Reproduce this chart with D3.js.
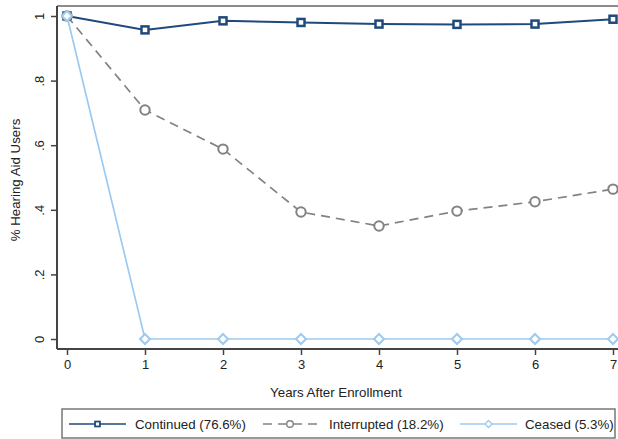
<!DOCTYPE html>
<html>
<head>
<meta charset="utf-8">
<script src="https://cdn.jsdelivr.net/npm/d3@7"></script>
<style>
  body { margin: 0; background: #fff; }
  svg { font-family: "Liberation Sans", Arial, sans-serif; }
</style>
</head>
<body>
<div id="chart"></div>
<script>
// years after enrollment
var years = [0, 1, 2, 3, 4, 5, 6, 7];

// share of hearing aid users per group
var continued   = [1, 0.957, 0.985, 0.980, 0.975, 0.974, 0.975, 0.990];
var interrupted = [1, 0.709, 0.588, 0.393, 0.350, 0.396, 0.425, 0.464];
var ceased      = [1, 0, 0, 0, 0, 0, 0, 0];

var yTicks = [0, 0.2, 0.4, 0.6, 0.8, 1];
var yTickLabels = ["0", ".2", ".4", ".6", ".8", "1"];
var seriesNames = ["Continued (76.6%)", "Interrupted (18.2%)", "Ceased (5.3%)"];

var svgWidth = 618, svgHeight = 439;
var margin = { top: 6, left: 57, bottom: 90, right: -6 };
var width = svgWidth - margin.left - margin.right;
var height = svgHeight - margin.top - margin.bottom;

var svg = d3.select("#chart")
  .append("svg")
  .attr("width", svgWidth)
  .attr("height", svgHeight);

var chartGroup = svg.append("g")
  .attr("transform", `translate(${margin.left}, ${margin.top})`);

var x = d3.scaleLinear().domain([0, 7]).range([10, 556]);
var y = d3.scaleLinear().domain([0, 1]).range([333, 10]);

// frame
chartGroup.append("line")
  .attr("x1", 0).attr("x2", width)
  .attr("y1", 0).attr("y2", 0)
  .attr("stroke", "#8c8c8c").attr("stroke-width", 2);

// axes
var xAxis = chartGroup.append("g")
  .attr("transform", `translate(0, ${height})`)
  .call(d3.axisBottom(x).tickValues(years).tickFormat(d3.format("d")).tickSize(6).tickPadding(5));
xAxis.select(".domain").attr("d", `M0,0H${width}`);

var yAxis = chartGroup.append("g")
  .call(d3.axisLeft(y).tickValues(yTicks).tickFormat((d, i) => yTickLabels[i]).tickSize(6).tickPadding(4));
yAxis.select(".domain").attr("d", `M0,0V${height}`);

chartGroup.selectAll(".domain").attr("stroke", "#444").attr("stroke-width", 2);
chartGroup.selectAll(".tick line").attr("stroke", "#444").attr("stroke-width", 1.5);
chartGroup.selectAll(".tick text").attr("fill", "#222").style("font-size", "13px");

yAxis.selectAll(".tick text")
  .attr("transform", "rotate(-90)")
  .attr("x", 0)
  .attr("y", -13)
  .attr("dy", "0")
  .style("text-anchor", "middle");

// axis titles
svg.append("text")
  .attr("x", 336).attr("y", 397)
  .style("text-anchor", "middle")
  .style("font-size", "13.3px")
  .attr("fill", "#222")
  .text("Years After Enrollment");

svg.append("text")
  .attr("transform", "rotate(-90)")
  .attr("x", -180).attr("y", 20)
  .style("text-anchor", "middle")
  .style("font-size", "13.3px")
  .attr("fill", "#222")
  .text("% Hearing Aid Users");

var line = d3.line().x((d, i) => x(years[i])).y(d => y(d));

var styles = [
  { data: continued,   color: "#1f4a7c", dash: null,  marker: "square" },
  { data: interrupted, color: "#828282", dash: "9,6", marker: "circle" },
  { data: ceased,      color: "#9ccaf0", dash: null,  marker: "diamond" }
];

function drawMarker(g, type, color) {
  if (type === "square") {
    g.append("rect").attr("x", -3.5).attr("y", -3.5).attr("width", 7).attr("height", 7)
      .attr("fill", "#fff").attr("stroke", color).attr("stroke-width", 2.5);
  } else if (type === "circle") {
    g.append("circle").attr("r", 4.7)
      .attr("fill", "#fff").attr("stroke", color).attr("stroke-width", 2);
  } else {
    g.append("path").attr("d", "M0,-5L5,0L0,5L-5,0Z")
      .attr("fill", "#fff").attr("stroke", color).attr("stroke-width", 2);
  }
}

styles.forEach(function (s) {
  chartGroup.append("path")
    .datum(s.data)
    .attr("fill", "none")
    .attr("stroke", s.color)
    .attr("stroke-width", s.marker === "square" ? 2 : 1.7)
    .attr("stroke-dasharray", s.dash)
    .attr("d", line);

  s.data.forEach(function (v, i) {
    var g = chartGroup.append("g").attr("transform", `translate(${x(years[i])}, ${y(v)})`);
    drawMarker(g, s.marker, s.color);
  });
});

// legend
var legend = svg.append("g");
legend.append("rect")
  .attr("x", 62).attr("y", 409).attr("width", 553).attr("height", 29)
  .attr("fill", "#fff").attr("stroke", "#777").attr("stroke-width", 1.5);

var legendPos = [
  { x1: 69, x2: 126, tx: 135 },
  { x1: 263, x2: 317, tx: 329 },
  { x1: 460, x2: 517, tx: 525 }
];

styles.forEach(function (s, i) {
  var p = legendPos[i];
  legend.append("line")
    .attr("x1", p.x1).attr("x2", p.x2).attr("y1", 424).attr("y2", 424)
    .attr("stroke", s.color).attr("stroke-width", 1.7)
    .attr("stroke-dasharray", s.dash);
  var g = legend.append("g").attr("transform", `translate(${(p.x1 + p.x2) / 2}, 424) scale(0.7)`);
  drawMarker(g, s.marker, s.color);
  legend.append("text")
    .attr("x", p.tx).attr("y", 428.5)
    .style("font-size", "13.3px")
    .attr("fill", "#222")
    .text(seriesNames[i]);
});
</script>
</body>
</html>
